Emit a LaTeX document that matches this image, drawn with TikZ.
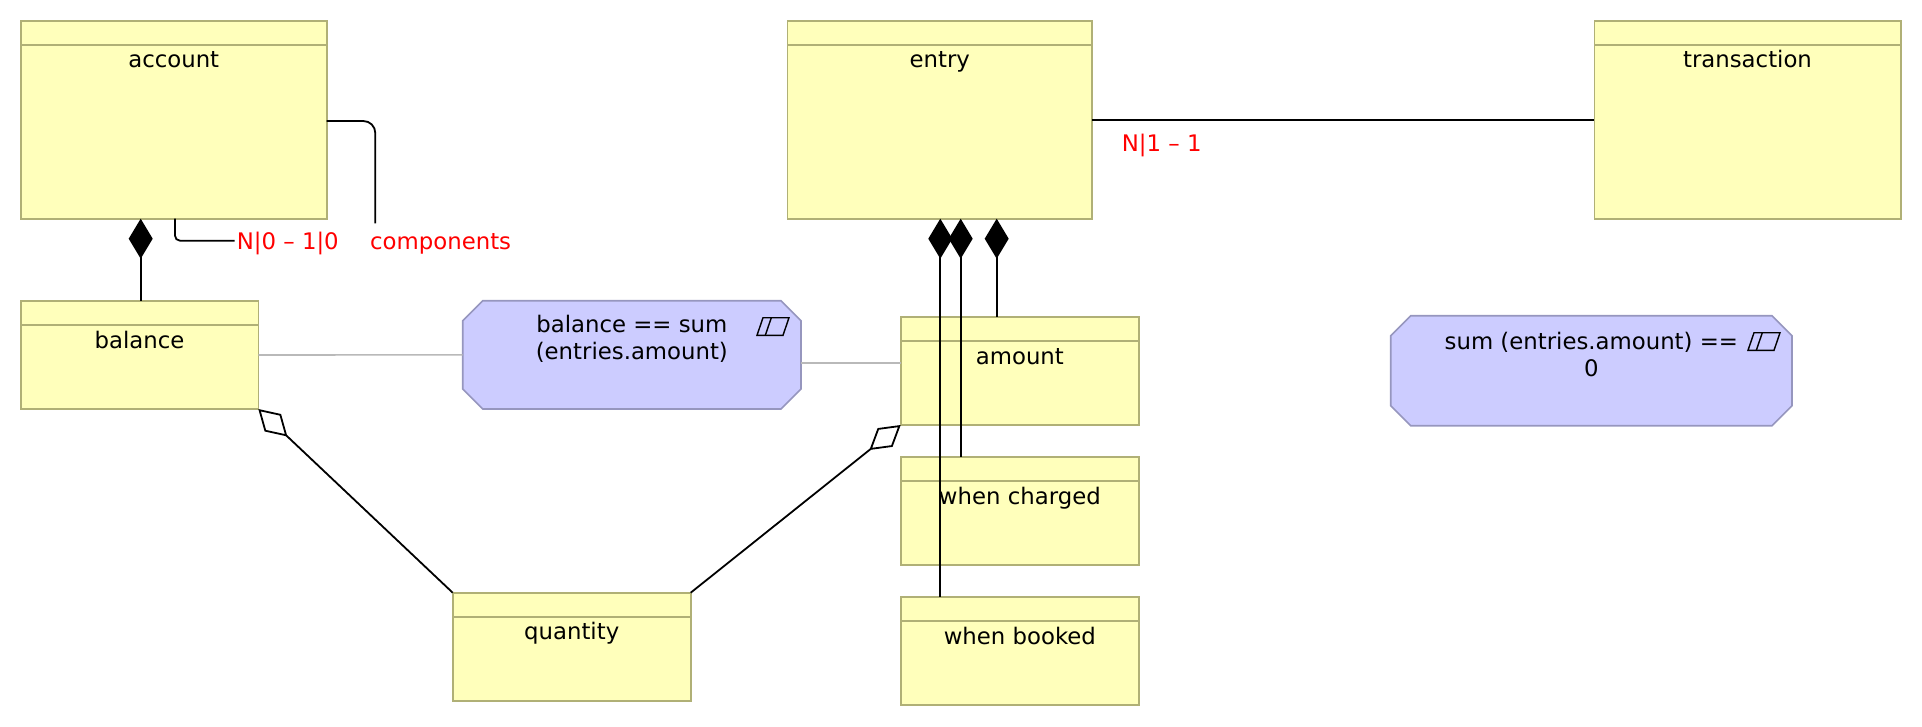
\documentclass[tikz,border=0pt]{standalone}
\usepackage{fontspec}
\setmainfont{DejaVu Sans}
\usetikzlibrary{arrows.meta,calc}
\definecolor{clsfill}{RGB}{255,255,187}
\definecolor{clsborder}{RGB}{176,176,118}
\definecolor{cnsfill}{RGB}{204,204,255}
\definecolor{cnsborder}{RGB}{150,150,190}
\definecolor{grayline}{RGB}{185,185,185}
\definecolor{lblred}{RGB}{255,0,0}
\newcommand\clsbox[6]{%
  \node[cls, minimum width=#4pt, minimum height=#5pt] (#1) at (#2,#3) {};
  \draw[hdr] ([yshift=-24pt]#1.north west) -- ([yshift=-24pt]#1.north east);
  \node[clstitle] (#1-t) at ([yshift=-47pt]#1.north) {#6};
}
\newcommand\octagon[1]{%
  \path[octa] ([xshift=20pt]#1.north west) -- ([xshift=-20pt]#1.north east)
   -- ([yshift=-20pt]#1.north east) -- ([yshift=20pt]#1.south east)
   -- ([xshift=-20pt]#1.south east) -- ([xshift=20pt]#1.south west)
   -- ([yshift=20pt]#1.south west) -- ([yshift=-20pt]#1.north west) -- cycle;
}
\newcommand\cicon[1]{%
  \draw[icon] ([shift={(-12pt,-17pt)}]#1.north east) -- ([shift={(-38pt,-17pt)}]#1.north east)
   -- ([shift={(-44pt,-34.6pt)}]#1.north east) -- ([shift={(-18pt,-34.6pt)}]#1.north east) -- cycle;
  \draw[icon] ([shift={(-29.7pt,-17pt)}]#1.north east) -- ([shift={(-35.7pt,-34.6pt)}]#1.north east);
}
\begin{document}
\begin{tikzpicture}[x=1pt,y=-1pt,
  font=\fontsize{22.8pt}{27pt}\selectfont,
  cls/.style={draw=clsborder, fill=clsfill, line width=1.6pt, inner sep=0pt, outer sep=0pt, anchor=north west},
  cns/.style={draw=none, inner sep=0pt, outer sep=0pt, anchor=north west},
  hdr/.style={draw=clsborder, line width=1.6pt},
  clstitle/.style={inner sep=0pt, anchor=base},
  rel/.style={draw=black, line width=1.8pt},
  comp/.style={rel, {Diamond[length=40pt,width=24pt]}-},
  aggr/.style={rel, {Diamond[open,length=40pt,width=24pt]}-},
  cline/.style={draw=grayline, line width=1.6pt},
  mult/.style={text=lblred, inner sep=0pt, anchor=base west},
  octa/.style={draw=cnsborder, fill=cnsfill, line width=1.6pt},
  icon/.style={draw=black, line width=1.4pt},
  cnstext/.style={align=center, inner sep=0pt, anchor=north},
]
\useasboundingbox (0,0) rectangle (1922,726);

\clsbox{account}{20.7}{20.7}{306}{198}{account}
\clsbox{entry}{787.5}{20.7}{304.5}{198}{entry}
\clsbox{transaction}{1594.3}{20.7}{306.4}{198}{transaction}
\clsbox{balance}{20.7}{301}{237.6}{108}{balance}
\clsbox{amount}{900.7}{317}{238.3}{108}{amount}
\clsbox{wc}{900.7}{457}{238.3}{108}{when charged}
\clsbox{wb}{900.7}{597}{238.3}{108}{when booked}
\clsbox{quantity}{452.7}{592.7}{238}{108}{quantity}

\node[cns, minimum width=338.3pt, minimum height=108.3pt] (c1) at (462.7,300.7) {};
\octagon{c1}
\cicon{c1}
\node[cnstext] (c1-t) at ([yshift=-14pt]c1.north) {balance == sum\\(entries.amount)};

\node[cns, minimum width=401.3pt, minimum height=110pt] (c2) at (1390.7,315.7) {};
\octagon{c2}
\cicon{c2}
\node[cnstext] (c2-t) at ([yshift=-16pt]c2.north) {sum (entries.amount) ==\\0};

% constraint links
\draw[cline] (balance.east) -- (c1.west);
\coordinate (ag) at ([yshift=8.3pt]amount.west);
\draw[cline] (ag -| c1.east) -- (ag);

% account relations
\coordinate (ab) at ([xshift=120pt]account.south west);
\draw[comp] (ab) -- (ab |- balance.north);
\node[mult] (m1) at (236.7,249.5) {N|0 – 1|0};
\coordinate (am) at ([xshift=154.3pt]account.south west);
\draw[rel, rounded corners=5pt] (am) |- ([xshift=-2pt,yshift=8.8pt]m1.base west);
\coordinate (ac) at ([yshift=-100.3pt]account.north east);
\coordinate (compend) at (375.3,223.3);
\draw[rel, rounded corners=12pt] (ac) -| (compend);
\node[mult] (m2) at (370,249.5) {components};

% entry relations
\draw[rel] (entry.east) -- (transaction.west);
\node[mult] (m3) at (1121.7,151.7) {N|1 – 1};
\coordinate (e1) at ([xshift=152.8pt]entry.south west);
\coordinate (e2) at ([xshift=173.2pt]entry.south west);
\coordinate (e3) at ([xshift=209.2pt]entry.south west);
\draw[comp] (e1) -- (e1 |- wb.north);
\draw[comp] (e2) -- (e2 |- wc.north);
\draw[comp] (e3) -- (e3 |- amount.north);

% aggregations
\draw[aggr] (balance.south east) -- (quantity.north west);
\draw[aggr] (amount.south west) -- (quantity.north east);
\end{tikzpicture}
\end{document}
